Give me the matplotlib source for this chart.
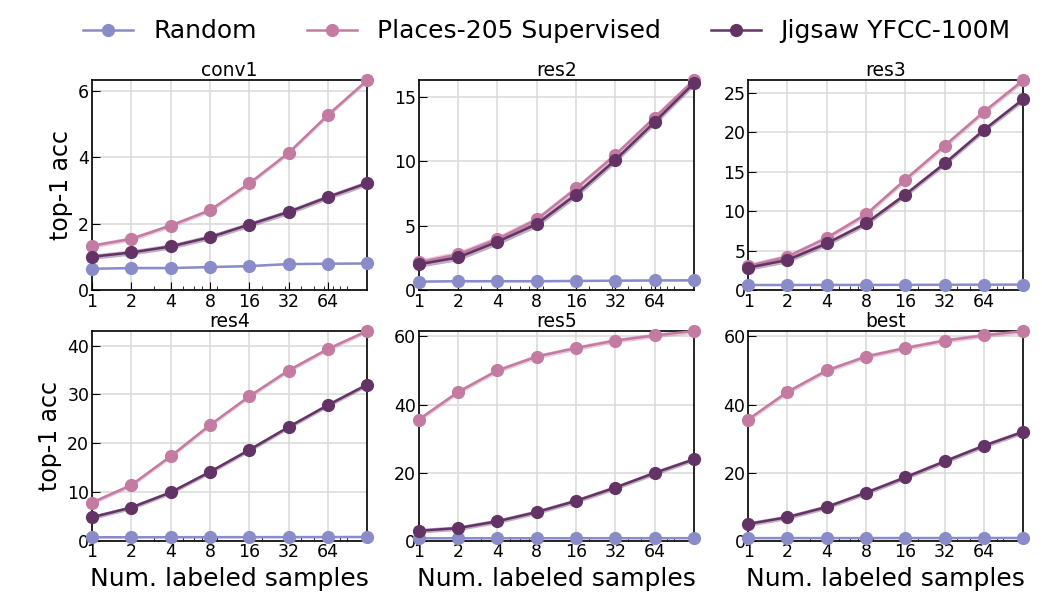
'''
Low-shot top-1 accuracy per layer, Random vs Places-205 vs Jigsaw.
Output: out.png
'''

import matplotlib
matplotlib.use('Agg')
import matplotlib.pyplot as plt
import numpy as np

# number of labeled samples per class
samples = [1, 2, 4, 8, 16, 32, 64, 128]
tick_labels = ['1', '2', '4', '8', '16', '32', '64']

layers = ['conv1', 'res2', 'res3', 'res4', 'res5', 'best']

random_acc = {
    'conv1': [0.64, 0.66, 0.66, 0.69, 0.72, 0.78, 0.79, 0.80],
    'res2':  [0.65, 0.68, 0.68, 0.68, 0.70, 0.72, 0.74, 0.75],
    'res3':  [0.63, 0.63, 0.64, 0.64, 0.65, 0.66, 0.67, 0.68],
    'res4':  [0.70, 0.70, 0.71, 0.72, 0.72, 0.73, 0.74, 0.75],
    'res5':  [0.70, 0.70, 0.71, 0.71, 0.72, 0.72, 0.73, 0.74],
    'best':  [0.75, 0.75, 0.76, 0.76, 0.77, 0.77, 0.78, 0.79],
}
places_acc = {
    'conv1': [1.33, 1.54, 1.94, 2.40, 3.21, 4.13, 5.27, 6.32],
    'res2':  [2.15, 2.77, 3.96, 5.48, 7.89, 10.5, 13.4, 16.3],
    'res3':  [3.04, 4.22, 6.60, 9.59, 14.0, 18.3, 22.6, 26.6],
    'res4':  [7.8, 11.4, 17.3, 23.7, 29.6, 34.9, 39.3, 43.0],
    'res5':  [35.6, 43.7, 50.0, 54.1, 56.6, 58.8, 60.3, 61.6],
    'best':  [35.6, 43.7, 50.0, 54.1, 56.6, 58.8, 60.3, 61.6],
}
jigsaw_acc = {
    'conv1': [1.00, 1.13, 1.31, 1.59, 1.97, 2.35, 2.80, 3.22],
    'res2':  [2.00, 2.53, 3.75, 5.12, 7.42, 10.1, 13.06, 16.08],
    'res3':  [2.83, 3.80, 5.90, 8.45, 12.1, 16.05, 20.3, 24.2],
    'res4':  [4.8, 6.8, 9.9, 14.1, 18.6, 23.3, 27.8, 32.0],
    'res5':  [2.9, 3.7, 5.7, 8.4, 11.7, 15.6, 19.9, 23.9],
    'best':  [4.9, 6.9, 9.9, 14.1, 18.6, 23.3, 27.9, 32.0],
}
# spread of the shaded band (std over runs), read roughly off the bands
places_std = {'conv1': 0.07, 'res2': 0.25, 'res3': 0.35, 'res4': 0.45, 'res5': 0.7, 'best': 0.7}
jigsaw_std = {'conv1': 0.08, 'res2': 0.25, 'res3': 0.35, 'res4': 0.45, 'res5': 0.7, 'best': 0.7}
random_std = {'conv1': 0.02, 'res2': 0.05, 'res3': 0.05, 'res4': 0.1, 'res5': 0.1, 'best': 0.1}

series = [
    ('Random', random_acc, random_std, '#8a8cc9'),
    ('Places-205 Supervised', places_acc, places_std, '#c47ba2'),
    ('Jigsaw YFCC-100M', jigsaw_acc, jigsaw_std, '#643366'),
]

fig = plt.figure(figsize=(10.42, 6.13), dpi=100)
lefts = [0.0883, 0.402, 0.718]
bottoms = [0.527, 0.118]
w, h = 0.264, 0.342

handles = []
for i, layer in enumerate(layers):
    ax = fig.add_axes([lefts[i % 3], bottoms[i // 3], w, h])
    top = 0
    for name, acc, std, col in series:
        y = np.array(acc[layer])
        s = std[layer]
        ax.fill_between(samples, y - s, y + s, color=col, alpha=0.4, lw=0)
        ln, = ax.plot(samples, y, marker='o', color=col, lw=1.8, markersize=8.5,
                      clip_on=False, zorder=3, label=name)
        if i == 0:
            handles.append(ln)
        top = max(top, y.max())
    ax.set_xscale('log')
    ax.set_xlim(1, 128)
    ax.set_ylim(0, top)
    ax.set_xticks(samples[:-1])
    ax.set_xticklabels(tick_labels)
    ax.grid(True, which='major', color='#dcdcdc', lw=1.2)
    ax.set_axisbelow(True)
    ax.tick_params(which='both', direction='in', labelsize=12.5, pad=2)
    ax.tick_params(which='major', length=6)
    ax.tick_params(which='minor', length=3)
    for sp in ax.spines.values():
        sp.set_color('black')
        sp.set_linewidth(1.2)
    ax.set_title(layer, fontsize=13.5, pad=2)
    if i % 3 == 0:
        ax.set_ylabel('top-1 acc', fontsize=17, labelpad=4)
    if i >= 3:
        ax.set_xlabel('Num. labeled samples', fontsize=18)

fig.legend(handles=handles, loc='upper center', ncol=3, frameon=False,
           fontsize=18, bbox_to_anchor=(0.525, 1.005), columnspacing=2.0,
           handlelength=2.0)

plt.savefig('out.png', dpi=100)
